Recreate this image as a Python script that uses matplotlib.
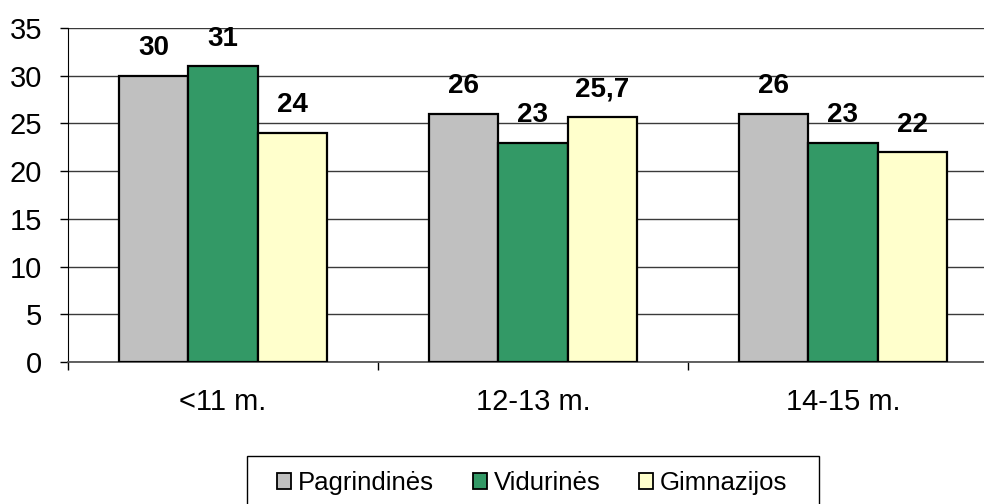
import numpy as np
import matplotlib
matplotlib.use("Agg")
import matplotlib.pyplot as plt
from matplotlib.patches import Rectangle
from matplotlib.ticker import FixedLocator

plt.rcParams["font.family"] = ["Liberation Sans", "DejaVu Sans"]

categories = ["<11 m.", "12-13 m.", "14-15 m."]
series_names = ["Pagrindinės", "Vidurinės", "Gimnazijos"]
pagrindines = [30, 26, 26]
vidurines = [31, 23, 23]
gimnazijos = [24, 25.7, 22]
colors = ["#C0C0C0", "#339966", "#FFFFCC"]


def fmt(v):
    # lithuanian decimal comma
    if float(v).is_integer():
        return str(int(v))
    return f"{v:.1f}".replace(".", ",")


W, H = 984, 504
fig = plt.figure(figsize=(W / 100, H / 100), dpi=100)
# plot area runs a bit past the right edge, as in the cropped original
ax = fig.add_axes([68 / W, 1 - 362 / H, 930 / W, 334 / H])

x = np.arange(len(categories))
width = 0.2226
all_series = [pagrindines, vidurines, gimnazijos]
for i, (vals, name, col) in enumerate(zip(all_series, series_names, colors)):
    pos = x + (i - 1) * width
    bars = ax.bar(pos, vals, width, color=col, edgecolor="black",
                  linewidth=1.6, label=name, zorder=3)
    for b, v in zip(bars, vals):
        ax.annotate(fmt(v), (b.get_x() + b.get_width() / 2, v),
                    xytext=(0, 19.8), textcoords="offset points",
                    ha="center", va="center", fontsize=20,
                    fontweight="bold", zorder=4, annotation_clip=False)

ax.set_xlim(-0.5, len(categories) - 0.5)
ax.set_ylim(0, 35)
ax.set_yticks(np.arange(0, 36, 5))
ax.yaxis.grid(True, color="#3a3a3a", linewidth=1.0)
ax.set_axisbelow(True)

ax.set_xticks(x)
ax.set_xticklabels(categories)
ax.xaxis.set_minor_locator(FixedLocator(np.arange(-0.5, len(categories), 1.0)))
ax.tick_params(axis="x", which="major", length=0, pad=18.5, labelsize=21)
ax.tick_params(axis="x", which="minor", length=5.8, width=1, color="black",
               direction="out")
ax.tick_params(axis="y", length=5.8, width=1, direction="out", pad=13,
               labelsize=21)

for side in ["top", "right"]:
    ax.spines[side].set_visible(False)
ax.spines["left"].set_color("black")
ax.spines["bottom"].set_color("#555555")
ax.spines["bottom"].set_linewidth(1.3)

# legend without its own frame; the box is drawn separately because it is
# cut off at the bottom of the picture
leg = fig.legend(loc="center left", bbox_to_anchor=(277 / W, 1 - 483 / H),
                 ncol=3, fontsize=18.5, frameon=False,
                 handlelength=0.55, handleheight=0.55,
                 handletextpad=0.27, columnspacing=1.5, borderpad=0,
                 borderaxespad=0)
for h in leg.legend_handles:
    h.set_linewidth(1.3)

fig.add_artist(Rectangle((247 / W, 1 - 515 / H), 572 / W, 59 / H,
                         transform=fig.transFigure, fill=False,
                         edgecolor="black", linewidth=1.0))

fig.savefig("out.png", dpi=100)
